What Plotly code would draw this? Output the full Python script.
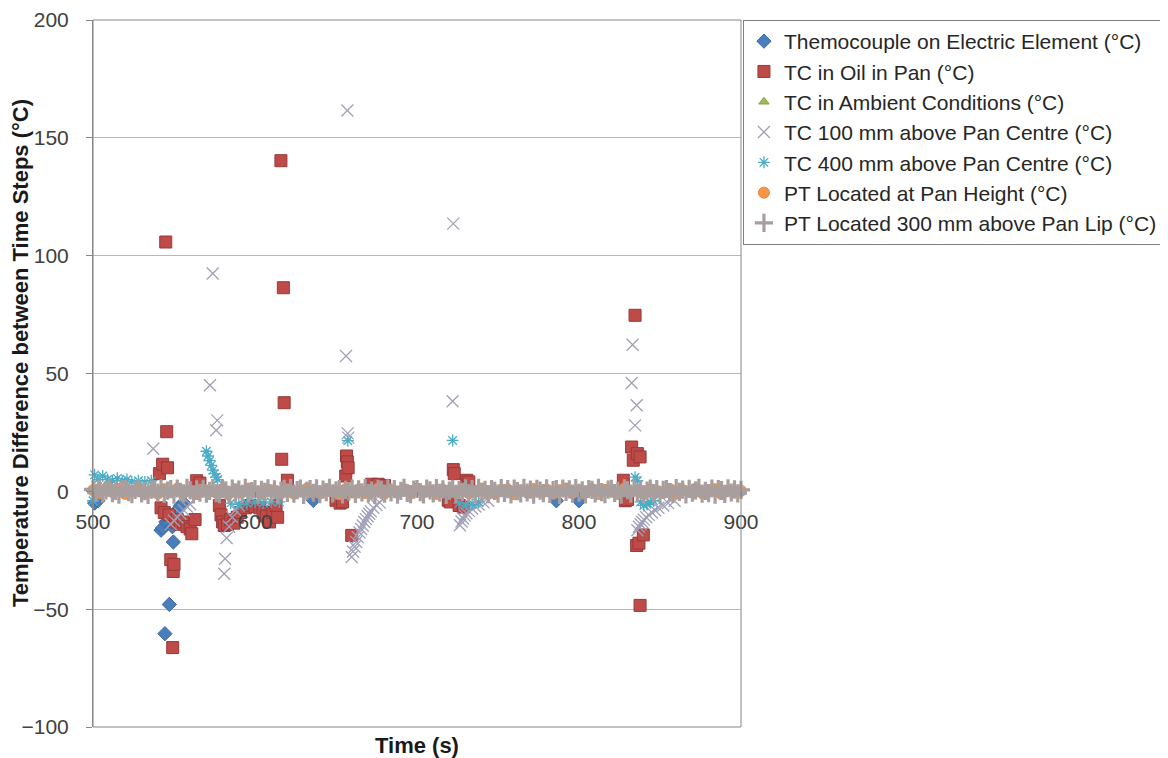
import plotly.graph_objects as go

# ---------------- data ----------------
time_grid_2s = list(range(500, 901, 2))
time_grid_4s = list(range(500, 901, 4))

series_names = [
    "Themocouple on Electric Element (°C)",
    "TC in Oil in Pan (°C)",
    "TC in Ambient Conditions (°C)",
    "TC 100 mm above Pan Centre (°C)",
    "TC 400 mm above Pan Centre (°C)",
    "PT Located at Pan Height (°C)",
    "PT Located 300 mm above Pan Lip (°C)",
]

element_t = [501, 503, 542, 543, 544.4, 545, 546, 547.1, 548, 549, 549.6, 551, 552, 554, 556, 636, 786, 800]
element_v = [-5, -4, -16.5, -15.5, -60.4, -13, -12.5, -48, -11, -15, -21.5, -9, -8, -6, -5, -3.8, -4, -4]

oil_t = [541, 542, 543, 544, 544.9, 545.5, 546, 547, 548, 549.2, 549.5, 550, 551, 552, 554, 556, 558, 560, 561, 563,
         564, 566, 578, 579, 580, 581, 583, 585, 587, 589, 591, 594, 597, 600, 603, 605, 607, 609, 611, 613, 614,
         616, 617.5, 618, 616.5, 620, 650, 652.5, 654, 656, 656.5, 657, 657.5, 659.7, 672, 676, 680,
         719.3, 720.5, 722.4, 723, 726, 728.6, 730.7, 732,
         827.4, 828.6, 830, 832.5, 833.5, 834.6, 836, 837.7, 835.6, 837, 839.7, 837.7]
oil_v = [7.5, -7, 11.5, -9, 105.8, 25.3, 10, -10, -29, -66.3, -34, -31, -13, -12, -14, -13, -15, -16, -18, -12,
         4.5, 3.5, -6, -10, -13, -14.5, -14, -12, -13.5, -11, -9, -7, -6, -6.5, -7, -9, -10.5, -13, -9, -6, -11,
         140.3, 86.4, 37.6, 13.6, 4.7, -3.8, -5, -4.5, 6.5, 15, 12.5, 10, -18.7, 3, 3, 2.5,
         -3.8, -4.5, 9.2, 7.5, -6, -6.7, 4.7, 4,
         4.7, -4, -3.5, 18.8, 13.2, 74.7, 16, 14.6, -23, -22, -18.5, -48.4]

ambient_t = [520, 600, 700, 800, 880]
ambient_v = [0.5, -0.5, 0.3, 0.2, -0.3]

tc100_t = [537.2, 548, 550, 552, 554, 556, 558, 560, 572.2, 573.9, 576, 576.7, 581, 581.5, 582.5, 584, 586, 588, 590,
           656.2, 657, 657.2, 657.6, 659.7, 660.5, 661.5, 662.5, 663.5, 664.5, 665.5, 666.5, 667.5, 668.5, 669.5,
           670.5, 671.5, 673, 675, 677,
           722, 722.4, 726.5, 727.5, 728.5, 729.5, 730.5, 732, 734, 736, 738, 741, 744,
           832.5, 833.1, 834.6, 835.6, 836, 837, 838, 839, 840, 841.5, 843, 845, 847, 849, 852, 855, 859]
tc100_v = [18.1, -14, -12.5, -11, -9.5, -8, -6.5, -5.5, 45, 92.4, 25.9, 30.1, -35, -28.6, -19.8, -15, -11, -8, -6,
           57.4, 161.6, 24.6, 22.8, -27.9, -25.5, -23.5, -21.5, -19.5, -17.5, -16, -14.5, -13, -11.8, -10.6,
           -9.5, -8.5, -7, -5.8, -4.8,
           38.2, 113.6, -14.4, -12.8, -11.5, -10.3, -9.3, -8.3, -7.3, -6.4, -5.6, -4.7, -4,
           46, 62.2, 28, 36.5, -16.5, -15, -14, -13, -12, -11, -10, -9, -8, -7, -6, -5, -4]

tc400_t = [500, 501, 503, 506, 509, 512, 515, 518, 521, 524, 528, 532, 536,
           570, 571, 572, 573, 574, 575, 576, 577,
           585, 590, 595, 600, 605, 610, 615,
           657.3, 722, 726, 730, 734, 738,
           834.6, 836, 838, 840, 842, 844, 846]
tc400_v = [-4, 7, 5, 6.5, 5, 4.5, 5.5, 4.5, 5, 4, 4.5, 4, 4.5,
           17, 15, 13, 11, 9, 7.5, 6, 5,
           -5, -5.5, -5, -4.5, -5, -4.5, -4.5,
           21.5, 21.6, -5, -6, -5.5, -4.5,
           6, 4.5, -4.5, -6, -5.5, -4.5, -4]

pt_pan_v = [0.5, -0.8, 1.0, -0.3, 0.7, -1.1, 0.2, 1.2, -0.6, 0.4,
            -1.0, 0.9, -0.2, 1.1, -0.7, 0.3, -1.2, 0.8, 0.1, -0.5,
            1.0, -0.9, 0.6, -0.4, 1.2, -0.1, -1.1, 0.7, 0.3, -0.6,
            0.9, -1.0, 0.4, 1.1, -0.3, -0.8, 0.6, 0.2, -1.2, 1.0,
            -0.5, 0.8, -0.7, 0.3, 1.2, -1.0, 0.5, -0.2, 0.9, -0.9,
            1.1, -0.4, 0.2, -1.1, 0.7, 0.4, -0.6, 1.0, -0.8, 0.1,
            1.2, -0.3, -0.9, 0.6, 0.8, -1.2, 0.3, -0.5, 1.0, -0.1,
            0.7, -1.0, 0.5, 1.1, -0.7, 0.2, -0.4, 0.9, -1.1, 0.6,
            0.3, -0.8, 1.2, -0.2, 0.4, -1.0, 0.8, 0.1, -0.6, 1.0,
            -0.9, 0.5, -0.3, 1.1, -0.7, 0.2, 0.9, -1.2, 0.4, -0.5,
            0.2]

pt_lip_v = [0.8, -0.6, 1.2, -1.0, 0.4, 1.5, -0.8, 0.2, -1.4, 0.9, 1.1, -0.3, -1.2, 0.6, 1.4, -0.9, 0.1, -1.5, 0.7, 1.0,
            -0.5, 1.3, -1.1, 0.3, 0.9, -1.4, 1.2, -0.2, -0.9, 1.5, 0.5, -1.3, 0.8, -0.6, 1.1, -1.0, 0.2, 1.4, -0.7, -1.2,
            0.9, 0.4, -1.5, 1.2, -0.4, 0.7, -1.1, 1.5, -0.8, 0.1, 1.0, -1.3, 0.6, -0.2, 1.3, -0.9, 0.8, -1.4, 0.3, 1.1,
            -0.7, 1.4, -1.0, 0.5, 1.2, -1.5, 0.2, 0.9, -0.6, 1.3, -1.2, 0.7, -0.3, 1.5, -0.9, 0.4, 1.0, -1.3, 0.6, -0.1,
            1.2, -1.1, 0.8, -0.4, 1.4, -0.8, 0.3, -1.5, 1.1, 0.6, -1.0, 1.3, -0.5, 0.9, -1.4, 0.2, 1.5, -0.7, -1.2, 0.7,
            1.0, -0.3, -1.3, 1.2, 0.4, -0.9, 1.4, -0.6, 0.8, -1.5, 0.3, 1.1, -1.1, 0.5, -0.2, 1.3, -0.8, 0.9, -1.4, 1.5,
            -0.4, 0.6, -1.2, 1.0, 0.2, -1.0, 1.4, -0.7, 0.9, -1.3, 1.2, 0.1, -0.9, 1.5, -0.5, 0.7, -1.4, 1.1, 0.3, -0.8,
            1.3, -1.1, 0.5, 0.9, -1.5, 1.2, -0.2, 0.8, -1.0, 1.4, -0.6, 0.4, -1.3, 1.0, 0.6, -0.9, 1.5, -0.3, -1.2, 0.7,
            1.1, -0.7, 0.2, -1.4, 1.3, 0.5, -1.0, 1.5, -0.5, 0.8, -1.2, 0.3, 1.2, -0.8, 0.9, -1.5, 0.6, 1.0, -0.4, -1.1,
            1.4, -0.2, 0.7, -1.3, 1.1, -0.6, 0.4, 1.5, -1.0, 0.2, -0.8, 1.2, -1.4, 0.9, 0.5, -1.1, 1.3, -0.5, 0.8, -0.9,
            0.6]

x_ticks = [500, 600, 700, 800, 900]
y_ticks = [-100, -50, 0, 50, 100, 150, 200]

# ---------------- figure ----------------
FONT = "Liberation Sans, Arial, sans-serif"
fig = go.Figure()

def add(name, xs, ys, symbol, size, color, line_color=None, line_width=0):
    fig.add_trace(go.Scatter(
        x=xs, y=ys, mode="markers", name=name, cliponaxis=False,
        marker=dict(symbol=symbol, size=size, color=color,
                    line=dict(color=line_color or color, width=line_width)),
    ))

add(series_names[0], element_t, element_v, "diamond", 11, "#4A7EBB", "#3A6AA5", 1)
add(series_names[1], oil_t, oil_v, "square", 12, "#BE4B48", "#963A38", 1)
add(series_names[2], ambient_t, ambient_v, "triangle-up", 9, "#9BBB59", "#80A040", 1)
add(series_names[3], tc100_t, tc100_v, "x-thin-open", 12, "#A0A0B8", "#A0A0B8", 1.3)
add(series_names[4], tc400_t, tc400_v, "asterisk-open", 10, "#4BACC6", "#4BACC6", 1.3)
add(series_names[5], time_grid_4s, pt_pan_v, "circle", 11, "#F79646", "#E8843A", 1)
add(series_names[6], time_grid_2s, pt_lip_v, "cross-thin-open", 13, "#A89E9D", "#A89E9D", 3.2)

fig.add_shape(type="rect", xref="paper", yref="paper", x0=0, x1=1, y0=0, y1=1,
              line=dict(color="#868686", width=1), layer="above")

fig.add_annotation(text="<b>Time (s)</b>", xref="paper", yref="paper", x=0.5, y=-0.0255,
                   xanchor="center", yanchor="middle", showarrow=False,
                   font=dict(family=FONT, size=22, color="#1a1a1a"))
fig.add_annotation(text="<b>Temperature Difference between Time Steps (°C)</b>", xref="paper", yref="paper",
                   x=-0.1111, y=0.529, xanchor="center", yanchor="middle", textangle=-90, showarrow=False,
                   font=dict(family=FONT, size=22, color="#1a1a1a"))

fig.update_layout(
    width=1160, height=750,
    margin=dict(l=85, r=427, t=12, b=31, autoexpand=False),
    paper_bgcolor="white", plot_bgcolor="white",
    font=dict(family=FONT, size=21, color="#404040"),
    showlegend=True,
    legend=dict(x=1.003, y=1.0, xanchor="left", yanchor="top",
                bordercolor="#7f7f7f", borderwidth=1, bgcolor="white",
                font=dict(family=FONT, size=21, color="#262626"),
                tracegroupgap=0),
    xaxis=dict(range=[500, 900], anchor="free", position=1/3, tickmode="array", tickvals=x_ticks,
               showgrid=False, zeroline=False, showline=False, ticks="outside", ticklen=5,
               tickcolor="#868686", tickfont=dict(family=FONT, size=21, color="#404040"),
               ticklabelstandoff=6),
    yaxis=dict(range=[-100, 200], tickmode="array", tickvals=y_ticks, showgrid=True,
               gridcolor="#b8b8b8", gridwidth=1, zeroline=False, showline=True, linecolor="#868686",
               ticks="outside", ticklen=6, tickcolor="#868686",
               tickfont=dict(family=FONT, size=21, color="#404040"), ticklabelstandoff=13),
)

fig.write_html("out.html")
